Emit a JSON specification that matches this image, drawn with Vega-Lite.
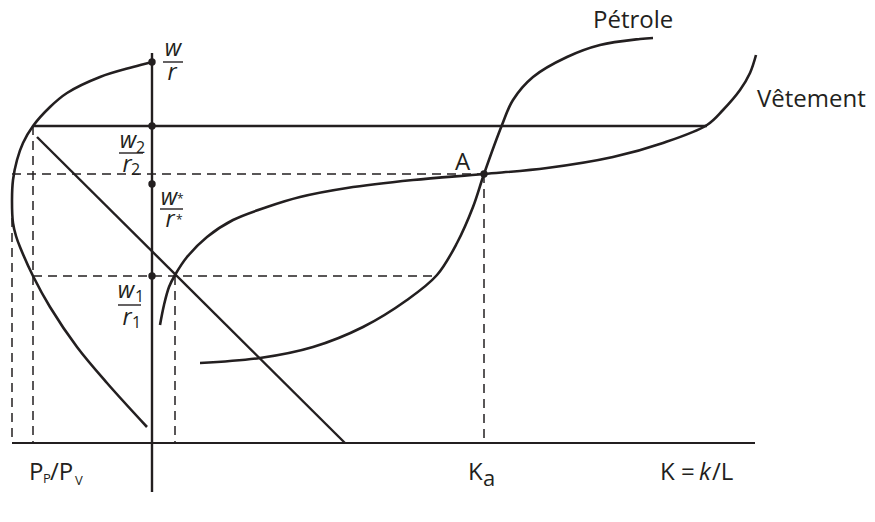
{
  "$schema": "https://vega.github.io/schema/vega-lite/v6.json",
  "width": 875,
  "height": 522,
  "autosize": {"type": "fit", "contains": "padding"},
  "padding": 0,
  "background": "white",
  "config": {"view": {"stroke": null}, "text": {"font": "Open Sans", "color": "#231f20"}},
  "datasets": {
    "curves": [
      {"curve": "prix", "i": 0, "x": 0, "y": 381},
      {"curve": "prix", "i": 1, "x": -19, "y": 376},
      {"curve": "prix", "i": 2, "x": -52, "y": 366},
      {"curve": "prix", "i": 3, "x": -85, "y": 350},
      {"curve": "prix", "i": 4, "x": -102, "y": 336},
      {"curve": "prix", "i": 5, "x": -119, "y": 317},
      {"curve": "prix", "i": 6, "x": -129, "y": 300},
      {"curve": "prix", "i": 7, "x": -135, "y": 283},
      {"curve": "prix", "i": 8, "x": -139, "y": 263},
      {"curve": "prix", "i": 9, "x": -140, "y": 243},
      {"curve": "prix", "i": 10, "x": -139, "y": 220},
      {"curve": "prix", "i": 11, "x": -136, "y": 207},
      {"curve": "prix", "i": 12, "x": -132, "y": 196},
      {"curve": "prix", "i": 13, "x": -119, "y": 167},
      {"curve": "prix", "i": 14, "x": -102, "y": 136},
      {"curve": "prix", "i": 15, "x": -75, "y": 96},
      {"curve": "prix", "i": 16, "x": -45, "y": 60},
      {"curve": "prix", "i": 17, "x": -5, "y": 16},
      {"curve": "Pétrole", "i": 0, "x": 48, "y": 80},
      {"curve": "Pétrole", "i": 1, "x": 108, "y": 85},
      {"curve": "Pétrole", "i": 2, "x": 161, "y": 96},
      {"curve": "Pétrole", "i": 3, "x": 211, "y": 116},
      {"curve": "Pétrole", "i": 4, "x": 255, "y": 143},
      {"curve": "Pétrole", "i": 5, "x": 285, "y": 168},
      {"curve": "Pétrole", "i": 6, "x": 305, "y": 200},
      {"curve": "Pétrole", "i": 7, "x": 321, "y": 236},
      {"curve": "Pétrole", "i": 8, "x": 332, "y": 269},
      {"curve": "Pétrole", "i": 9, "x": 350, "y": 318},
      {"curve": "Pétrole", "i": 10, "x": 361, "y": 343},
      {"curve": "Pétrole", "i": 11, "x": 381, "y": 366},
      {"curve": "Pétrole", "i": 12, "x": 415, "y": 386},
      {"curve": "Pétrole", "i": 13, "x": 448, "y": 398},
      {"curve": "Pétrole", "i": 14, "x": 488, "y": 404},
      {"curve": "Pétrole", "i": 15, "x": 501, "y": 405},
      {"curve": "Vêtement", "i": 0, "x": 8, "y": 118},
      {"curve": "Vêtement", "i": 1, "x": 12, "y": 138},
      {"curve": "Vêtement", "i": 2, "x": 17, "y": 156},
      {"curve": "Vêtement", "i": 3, "x": 23, "y": 168},
      {"curve": "Vêtement", "i": 4, "x": 35, "y": 186},
      {"curve": "Vêtement", "i": 5, "x": 55, "y": 206},
      {"curve": "Vêtement", "i": 6, "x": 81, "y": 223},
      {"curve": "Vêtement", "i": 7, "x": 115, "y": 236},
      {"curve": "Vêtement", "i": 8, "x": 148, "y": 246},
      {"curve": "Vêtement", "i": 9, "x": 195, "y": 255},
      {"curve": "Vêtement", "i": 10, "x": 261, "y": 263},
      {"curve": "Vêtement", "i": 11, "x": 332, "y": 269},
      {"curve": "Vêtement", "i": 12, "x": 395, "y": 275},
      {"curve": "Vêtement", "i": 13, "x": 461, "y": 286},
      {"curve": "Vêtement", "i": 14, "x": 511, "y": 300},
      {"curve": "Vêtement", "i": 15, "x": 555, "y": 318},
      {"curve": "Vêtement", "i": 16, "x": 571, "y": 333},
      {"curve": "Vêtement", "i": 17, "x": 588, "y": 353},
      {"curve": "Vêtement", "i": 18, "x": 598, "y": 370},
      {"curve": "Vêtement", "i": 19, "x": 604, "y": 388}
    ],
    "dashed": [
      {"x": -140, "x2": 332, "y": 269, "y2": 269},
      {"x": -119, "x2": 285, "y": 167, "y2": 167},
      {"x": -140, "x2": -140, "y": 225, "y2": 0},
      {"x": -119, "x2": -119, "y": 317, "y2": 0},
      {"x": 23, "x2": 23, "y": 167, "y2": 0},
      {"x": 332, "x2": 332, "y": 269, "y2": 0}
    ],
    "thinLines": [
      {"x": -140, "x2": 603, "y": 0, "y2": 0}
    ],
    "thickLines": [
      {"x": 0, "x2": 0, "y": 390, "y2": -49},
      {"x": -119, "x2": 555, "y": 317, "y2": 317},
      {"x": -115, "x2": 193, "y": 306, "y2": 0}
    ],
    "bars": [
      {"x": 11, "x2": 31, "y": 381, "y2": 381},
      {"x": -33, "x2": -9, "y": 290, "y2": 290},
      {"x": 8, "x2": 31, "y": 234, "y2": 234},
      {"x": -34, "x2": -11, "y": 138, "y2": 138}
    ],
    "dots": [
      {"x": 0, "y": 381},
      {"x": 0, "y": 317},
      {"x": 0, "y": 259},
      {"x": 0, "y": 167},
      {"x": 332, "y": 269}
    ],
    "fracLetters": [
      {"x": 21, "y": 387, "t": "w"},
      {"x": 20, "y": 363, "t": "r"},
      {"x": -24, "y": 295, "t": "w"},
      {"x": -25, "y": 271, "t": "r"},
      {"x": 17, "y": 238, "t": "w"},
      {"x": 18, "y": 216, "t": "r"},
      {"x": -26, "y": 145, "t": "w"},
      {"x": -25, "y": 118, "t": "r"}
    ],
    "fracSubs": [
      {"x": -16, "y": 290, "t": "2"},
      {"x": -21, "y": 268, "t": "2"},
      {"x": -17, "y": 141, "t": "1"},
      {"x": -20, "y": 115, "t": "1"}
    ],
    "stars": [
      {"x": 25, "y": 240, "t": "*"},
      {"x": 24, "y": 219, "t": "*"}
    ],
    "labels": [
      {"x": 303, "y": 273, "t": "A"},
      {"x": 441, "y": 415, "t": "Pétrole"},
      {"x": 605, "y": 336, "t": "Vêtement"},
      {"x": -123, "y": -37, "t": "P"},
      {"x": -102, "y": -37, "t": "/P"},
      {"x": 316, "y": -37, "t": "K"},
      {"x": 508, "y": -37, "t": "K ="},
      {"x": 560, "y": -37, "t": "/L"}
    ],
    "italicLabels": [
      {"x": 547, "y": -37, "t": "k"}
    ],
    "smallSubs": [
      {"x": -109, "y": -40, "t": "P"},
      {"x": -77, "y": -42, "t": "V"}
    ],
    "bigSubs": [
      {"x": 331, "y": -43, "t": "a"}
    ]
  },
  "layer": [
    {
      "data": {"name": "dashed"},
      "mark": {"type": "rule", "color": "#231f20", "strokeWidth": 1.5, "strokeDash": [9, 6]},
      "encoding": {
        "x": {"field": "x", "type": "quantitative", "scale": {"domain": [-152, 723], "nice": false, "zero": false}, "axis": null},
        "x2": {"field": "x2"},
        "y": {"field": "y", "type": "quantitative", "scale": {"domain": [-79, 443], "nice": false, "zero": false}, "axis": null},
        "y2": {"field": "y2"}
      }
    },
    {
      "data": {"name": "thinLines"},
      "mark": {"type": "rule", "color": "#231f20", "strokeWidth": 1.8},
      "encoding": {
        "x": {"field": "x", "type": "quantitative", "scale": {"domain": [-152, 723], "nice": false, "zero": false}, "axis": null},
        "x2": {"field": "x2"},
        "y": {"field": "y", "type": "quantitative", "scale": {"domain": [-79, 443], "nice": false, "zero": false}, "axis": null},
        "y2": {"field": "y2"}
      }
    },
    {
      "data": {"name": "thickLines"},
      "mark": {"type": "rule", "color": "#231f20", "strokeWidth": 2.4},
      "encoding": {
        "x": {"field": "x", "type": "quantitative", "scale": {"domain": [-152, 723], "nice": false, "zero": false}, "axis": null},
        "x2": {"field": "x2"},
        "y": {"field": "y", "type": "quantitative", "scale": {"domain": [-79, 443], "nice": false, "zero": false}, "axis": null},
        "y2": {"field": "y2"}
      }
    },
    {
      "data": {"name": "bars"},
      "mark": {"type": "rule", "color": "#231f20", "strokeWidth": 1.4},
      "encoding": {
        "x": {"field": "x", "type": "quantitative", "scale": {"domain": [-152, 723], "nice": false, "zero": false}, "axis": null},
        "x2": {"field": "x2"},
        "y": {"field": "y", "type": "quantitative", "scale": {"domain": [-79, 443], "nice": false, "zero": false}, "axis": null},
        "y2": {"field": "y2"}
      }
    },
    {
      "data": {"name": "curves"},
      "mark": {"type": "line", "color": "#231f20", "strokeWidth": 2.6, "interpolate": "catmull-rom"},
      "encoding": {
        "x": {"field": "x", "type": "quantitative", "scale": {"domain": [-152, 723], "nice": false, "zero": false}, "axis": null},
        "y": {"field": "y", "type": "quantitative", "scale": {"domain": [-79, 443], "nice": false, "zero": false}, "axis": null},
        "detail": {"field": "curve"},
        "order": {"field": "i", "type": "quantitative"}
      }
    },
    {
      "data": {"name": "dots"},
      "mark": {"type": "circle", "color": "#231f20", "opacity": 1, "size": 55},
      "encoding": {
        "x": {"field": "x", "type": "quantitative", "scale": {"domain": [-152, 723], "nice": false, "zero": false}, "axis": null},
        "y": {"field": "y", "type": "quantitative", "scale": {"domain": [-79, 443], "nice": false, "zero": false}, "axis": null}
      }
    },
    {
      "data": {"name": "fracLetters"},
      "mark": {"type": "text", "align": "center", "baseline": "alphabetic", "fontSize": 23, "fontStyle": "italic"},
      "encoding": {
        "x": {"field": "x", "type": "quantitative", "scale": {"domain": [-152, 723], "nice": false, "zero": false}, "axis": null},
        "y": {"field": "y", "type": "quantitative", "scale": {"domain": [-79, 443], "nice": false, "zero": false}, "axis": null},
        "text": {"field": "t"}
      }
    },
    {
      "data": {"name": "fracSubs"},
      "mark": {"type": "text", "align": "left", "baseline": "alphabetic", "fontSize": 16},
      "encoding": {
        "x": {"field": "x", "type": "quantitative", "scale": {"domain": [-152, 723], "nice": false, "zero": false}, "axis": null},
        "y": {"field": "y", "type": "quantitative", "scale": {"domain": [-79, 443], "nice": false, "zero": false}, "axis": null},
        "text": {"field": "t"}
      }
    },
    {
      "data": {"name": "stars"},
      "mark": {"type": "text", "align": "left", "baseline": "alphabetic", "fontSize": 12},
      "encoding": {
        "x": {"field": "x", "type": "quantitative", "scale": {"domain": [-152, 723], "nice": false, "zero": false}, "axis": null},
        "y": {"field": "y", "type": "quantitative", "scale": {"domain": [-79, 443], "nice": false, "zero": false}, "axis": null},
        "text": {"field": "t"}
      }
    },
    {
      "data": {"name": "labels"},
      "mark": {"type": "text", "align": "left", "baseline": "alphabetic", "fontSize": 24},
      "encoding": {
        "x": {"field": "x", "type": "quantitative", "scale": {"domain": [-152, 723], "nice": false, "zero": false}, "axis": null},
        "y": {"field": "y", "type": "quantitative", "scale": {"domain": [-79, 443], "nice": false, "zero": false}, "axis": null},
        "text": {"field": "t"}
      }
    },
    {
      "data": {"name": "italicLabels"},
      "mark": {"type": "text", "align": "left", "baseline": "alphabetic", "fontSize": 24, "fontStyle": "italic"},
      "encoding": {
        "x": {"field": "x", "type": "quantitative", "scale": {"domain": [-152, 723], "nice": false, "zero": false}, "axis": null},
        "y": {"field": "y", "type": "quantitative", "scale": {"domain": [-79, 443], "nice": false, "zero": false}, "axis": null},
        "text": {"field": "t"}
      }
    },
    {
      "data": {"name": "smallSubs"},
      "mark": {"type": "text", "align": "left", "baseline": "alphabetic", "fontSize": 13},
      "encoding": {
        "x": {"field": "x", "type": "quantitative", "scale": {"domain": [-152, 723], "nice": false, "zero": false}, "axis": null},
        "y": {"field": "y", "type": "quantitative", "scale": {"domain": [-79, 443], "nice": false, "zero": false}, "axis": null},
        "text": {"field": "t"}
      }
    },
    {
      "data": {"name": "bigSubs"},
      "mark": {"type": "text", "align": "left", "baseline": "alphabetic", "fontSize": 22},
      "encoding": {
        "x": {"field": "x", "type": "quantitative", "scale": {"domain": [-152, 723], "nice": false, "zero": false}, "axis": null},
        "y": {"field": "y", "type": "quantitative", "scale": {"domain": [-79, 443], "nice": false, "zero": false}, "axis": null},
        "text": {"field": "t"}
      }
    }
  ]
}
